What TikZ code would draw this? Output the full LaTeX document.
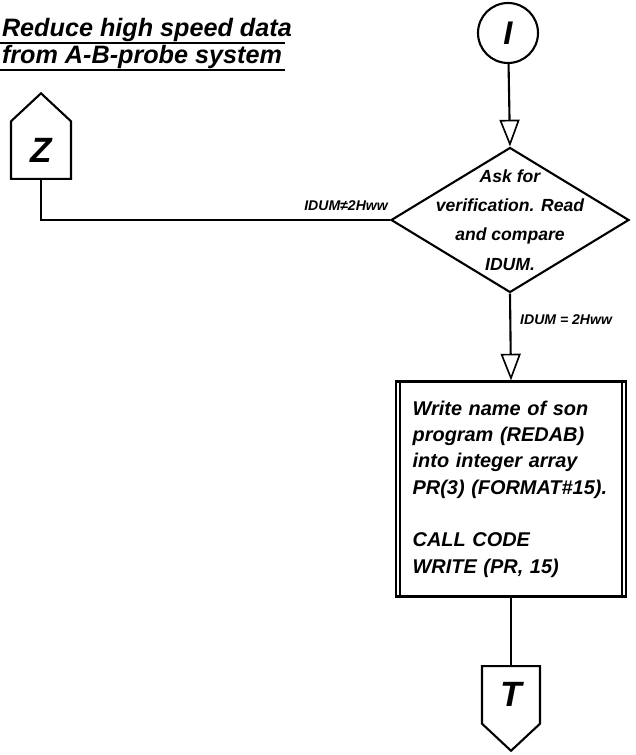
\documentclass[tikz,border=0pt]{standalone}
\usepackage{fontspec}
\setmainfont{Liberation Sans}
\usepackage{tikz}
\usetikzlibrary{arrows.meta, shapes.geometric, shapes.symbols}

\begin{document}
\begin{tikzpicture}[x=0.3mm, y=-0.3mm, line width=1.8pt, font=\bfseries\itshape,
  >={Triangle[open, length=8mm, width=6mm, line width=1.4pt]},
  conn/.style={draw, circle, minimum size=18mm, inner sep=0pt,
               font=\bfseries\itshape\fontsize{28}{30}\selectfont},
  offpage/.style={draw, signal, minimum width=18mm, minimum height=20.3mm, inner sep=0pt,
               signal pointer angle=94, font=\bfseries\itshape\fontsize{30}{32}\selectfont},
  decision/.style={draw, diamond, shape aspect=1.64, minimum width=71.4mm, minimum height=43.5mm,
               inner xsep=-5mm, inner ysep=-5.5mm, align=center,
               font=\bfseries\itshape\fontsize{15}{25}\selectfont},
  proc/.style={draw, minimum width=69mm, minimum height=64.5mm, text width=59mm,
               align=left, font=\bfseries\itshape\fontsize{17}{22.5}\selectfont},
  title/.style={font=\bfseries\itshape\fontsize{21.5}{26}\selectfont, inner sep=0pt},
  lab/.style={font=\bfseries\itshape\fontsize{12}{14}\selectfont, inner sep=1pt}]
  \useasboundingbox (0,0) rectangle (635,755);
  \node[title, anchor=base west] (t1) at (1,37) {Reduce high speed data};
  \node[title, anchor=base west] (t2) at (1,64) {from A-B-probe system};
  \draw (0,43) -- (285,43);
  \draw (0,70) -- (285,70);
  \node[conn] (I) at (508,33) {I};
  \node[decision] (ask) at (510,220) {Ask for\\verification. Read\\and compare\\IDUM.};
  \node[proc] (proc) at (511,489) {Write name of son\\program (REDAB)\\into integer array\\
    PR(3) (FORMAT\#15).\\[22.5pt] CALL CODE\\WRITE (PR, 15)};
  \draw ([xshift=1.5mm]proc.north west) -- ([xshift=1.5mm]proc.south west);
  \draw ([xshift=-1.5mm]proc.north east) -- ([xshift=-1.5mm]proc.south east);
  \node[offpage, signal to=north, anchor=south] (Z) at (41,180) {Z};
  \node[offpage, signal to=south, anchor=north, minimum width=17.4mm] (T) at (511,665) {T};
  \draw[->] (I) -- (ask.north);
  \draw[->] (ask.south) -- (proc.north);
  \draw (proc.south) -- (T.north);
  \draw (Z.south) |- (ask.west);
  \node[lab, anchor=south east] (ne) at (390,213) {IDUM≠2Hww};
  \node[lab, anchor=west] (eq) at (518,320) {IDUM = 2Hww};
\end{tikzpicture}
\end{document}
